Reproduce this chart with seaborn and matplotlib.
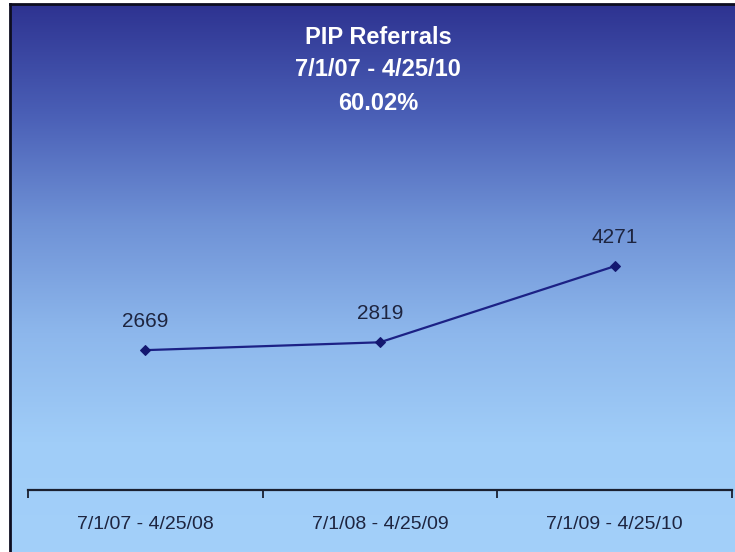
import numpy as np
import pandas as pd
import matplotlib
matplotlib.use("Agg")
import matplotlib.pyplot as plt
from matplotlib.colors import LinearSegmentedColormap
from matplotlib.ticker import FixedLocator, NullFormatter, FixedFormatter
import seaborn as sns

# Chart data
periods = ["7/1/07 - 4/25/08", "7/1/08 - 4/25/09", "7/1/09 - 4/25/10"]
referrals = [2669, 2819, 4271]
title_lines = ["PIP Referrals", "7/1/07 - 4/25/10", "60.02%"]

sns.set_theme(style="white")
plt.rcParams["font.family"] = ["Liberation Sans", "DejaVu Sans"]

W, H = 735, 552
fig = plt.figure(figsize=(W / 100, H / 100), dpi=100)
fig.patch.set_facecolor("white")

# Background gradient panel with frame
bg = fig.add_axes([10 / W, 0, (W - 10) / W, (H - 4) / H])
grad_cmap = LinearSegmentedColormap.from_list(
    "bluegrad", ["#2e3391", "#4a5fb6", "#6f92d6", "#8db7ec", "#a0cdf8", "#a3d0fa"])
grad = np.linspace(0, 1, 256).reshape(-1, 1)
bg.imshow(grad, aspect="auto", cmap=grad_cmap, extent=[0, 1, 0, 1], origin="upper")
bg.set_xlim(0, 1)
bg.set_ylim(0, 1)
bg.set_xticks([])
bg.set_yticks([])
for side, sp in bg.spines.items():
    sp.set_visible(side in ("left", "top"))
    sp.set_color("#0d0d20")
    sp.set_linewidth(2.0)

# Plot area
ax = fig.add_axes([28 / W, (H - 490) / H, 704 / W, 262 / H])
ax.patch.set_alpha(0)
df = pd.DataFrame({"period": periods, "referrals": referrals})
sns.lineplot(data=df, x="period", y="referrals", ax=ax, color="#1c2185",
             linewidth=1.6, marker="D", markersize=5.5,
             markeredgecolor="#141870", markerfacecolor="#141870", sort=False)
ax.set_xlim(-0.5, 2.5)
ax.set_ylim(0, 5000)
ax.set_xlabel("")
ax.set_ylabel("")
ax.set_yticks([])

# Category boundaries as ticks, labels centred in each category
ax.xaxis.set_major_locator(FixedLocator([-0.5, 0.5, 1.5, 2.5]))
ax.xaxis.set_major_formatter(NullFormatter())
ax.xaxis.set_minor_locator(FixedLocator([0, 1, 2]))
ax.xaxis.set_minor_formatter(FixedFormatter(periods))
ax.tick_params(axis="x", which="major", direction="out", length=6, width=1.3,
               color="#1a2030", bottom=True)
ax.tick_params(axis="x", which="minor", length=0, pad=19, labelsize=14,
               labelcolor="#1e2540")
for side, sp in ax.spines.items():
    sp.set_visible(side == "bottom")
ax.spines["bottom"].set_color("#1a2030")
ax.spines["bottom"].set_linewidth(1.6)

# Value labels above each point
for i, v in enumerate(referrals):
    ax.annotate(str(v), (i, v), xytext=(0, 14), textcoords="offset points",
                ha="center", va="bottom", fontsize=15, color="#1e2540")

# Title block
title_y = [38, 70, 103]
for line, y in zip(title_lines, title_y):
    fig.text(378 / W, 1 - y / H, line, ha="center", va="center", color="white",
             fontsize=17, fontweight="bold")

fig.savefig("out.png", dpi=100)
